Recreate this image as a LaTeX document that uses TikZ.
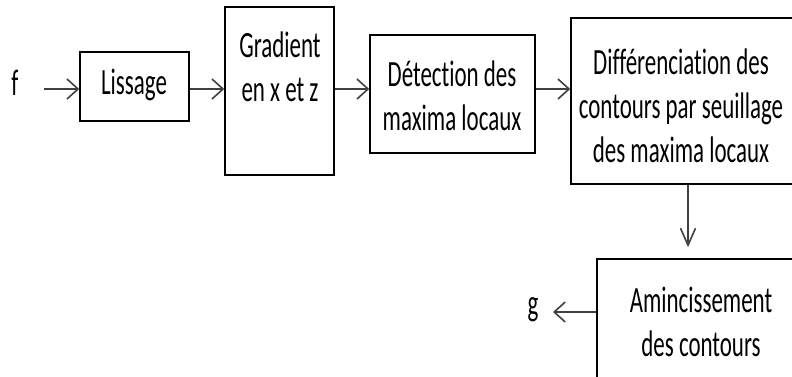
\documentclass[tikz,border=0pt]{standalone}
\usepackage{fontspec}
\setmainfont{Carlito}[FakeStretch=0.62,Ligatures=NoCommon]
\usetikzlibrary{arrows.meta}
\begin{document}
\begin{tikzpicture}[x=1pt,y=-1pt,
  box/.style={draw=black,line width=1.6pt,inner sep=0pt,minimum width=#1},
  lbl/.style={align=center,inner sep=0pt,font=\fontsize{37}{44}\selectfont},
  arr/.style={draw=black!75,line width=1.8pt,-{Straight Barb[length=11pt,width=20pt,line width=1.6pt]}},
  varr/.style={draw=black!75,line width=1.8pt,-{Straight Barb[length=17pt,width=15pt,line width=1.6pt]}}]
\useasboundingbox (0,0) rectangle (792,376);
% boxes
\node[box=109pt,minimum height=69pt] (lis) at (134.5,86.5) {};
\node[box=109pt,minimum height=168pt] (grad) at (279.5,91) {};
\node[box=165pt,minimum height=118pt] (det) at (452.5,94) {};
\node[box=225pt,minimum height=166pt] (dif) at (683.5,101) {};
\node[box=205pt,minimum height=130pt] (ami) at (699.5,324) {};
% texts
\node[lbl] (tlis) at (134,85) {Lissage};
\node[lbl] (tgrad) at (280,67) {Gradient\\en x et z};
\node[lbl] (tdet) at (452,96) {Détection des\\maxima locaux};
\node[lbl] (tdif) at (681,106) {Différenciation des\\contours par seuillage\\des maxima locaux};
\node[lbl] (tami) at (701,322) {Amincissement\\des contours};
\node[lbl] (f) at (15,83) {f};
\node[lbl] (g) at (533,310) {g};
% connector coordinates
\coordinate (fo) at (44,89);
\coordinate (go) at (553,312);
\coordinate (vx) at (688,0);
% connectors
\draw[arr] (fo) -- (lis.west |- fo);
\draw[arr] (lis.east |- fo) -- (grad.west |- fo);
\draw[arr] (grad.east |- fo) -- (det.west |- fo);
\draw[arr] (det.east |- fo) -- (dif.west |- fo);
\draw[varr,shorten >=11pt] (dif.south -| vx) -- (ami.north -| vx);
\draw[arr] (ami.west |- go) -- (go);
\end{tikzpicture}
\end{document}
